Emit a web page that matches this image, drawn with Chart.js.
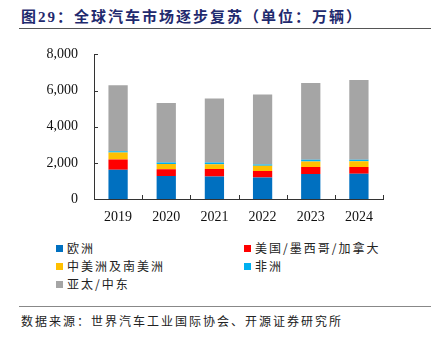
<!DOCTYPE html>
<html>
<head>
<meta charset="utf-8">
<script src="https://cdn.jsdelivr.net/npm/chart.js@4.4.1/dist/chart.umd.min.js"></script>
<style>
  html, body { margin: 0; padding: 0; background: #fff; }
  #page { position: relative; width: 431px; height: 340px; overflow: hidden; }
  #title {
    position: absolute; left: 21px; top: 5px;
    font: bold 15px "Liberation Serif", "Noto Sans CJK SC", serif;
    color: #1f2a6e; letter-spacing: 2px; white-space: nowrap;
  }
  .rule { position: absolute; left: 19px; right: 0; height: 1px; background: #555; }
  #chartBox { position: absolute; left: 0; top: 30px; width: 431px; height: 200px; }
  .leg {
    position: absolute; font: 12px "Noto Sans CJK SC", sans-serif; color: #222;
    letter-spacing: 2px; white-space: nowrap; line-height: 14px;
  }
  .leg i { display: inline-block; width: 7px; height: 7px; margin-right: 4px; vertical-align: 1px; }
  #source {
    position: absolute; left: 21px; top: 312px;
    font: 12px "Noto Sans CJK SC", sans-serif; color: #222; letter-spacing: 2px; white-space: nowrap;
  }
</style>
</head>
<body>
<div id="page">
  <div id="title">图29：全球汽车市场逐步复苏（单位：万辆）</div>
  <div class="rule" style="top:28px"></div>
  <div id="chartBox"><canvas id="carChart"></canvas></div>
  <div id="legend"></div>
  <div class="rule" style="top:306px; background:#888"></div>
  <div id="source">数据来源：世界汽车工业国际协会、开源证券研究所</div>
</div>
<script>
// 数据 (万辆)
const years = ['2019', '2020', '2021', '2022', '2023', '2024'];
const europe = [1620, 1270, 1240, 1185, 1380, 1400];
const northAmerica = [565, 370, 415, 360, 385, 365];
const latinAmerica = [385, 290, 270, 290, 310, 325];
const africa = [70, 90, 95, 75, 90, 75];
const asiaMideast = [3650, 3290, 3545, 3870, 4255, 4420];

const seriesNames = ['欧洲', '美国/墨西哥/加拿大', '中美洲及南美洲', '非洲', '亚太/中东'];
const seriesColors = ['#0070c0', '#ff0000', '#ffc000', '#00b0f0', '#a5a5a5'];
const seriesData = [europe, northAmerica, latinAmerica, africa, asiaMideast];
const yTicks = [0, 2000, 4000, 6000, 8000];

const AXIS_COLOR = '#333';

// tick marks pointing into the plot area
const innerTicks = {
    id: 'innerTicks',
    afterDraw(chart) {
        const ctx = chart.ctx;
        const x = chart.scales.x, y = chart.scales.y;
        ctx.save();
        ctx.strokeStyle = AXIS_COLOR;
        ctx.lineWidth = 1;
        ctx.beginPath();
        yTicks.forEach(v => {
            const py = Math.round(y.getPixelForValue(v)) + 0.5;
            ctx.moveTo(x.left, py);
            ctx.lineTo(x.left + 4, py);
        });
        for (let i = 0; i <= years.length; i++) {
            const px = Math.round(x.getPixelForValue(i - 0.5)) + 0.5;
            ctx.moveTo(px, y.bottom);
            ctx.lineTo(px, y.bottom - 4);
        }
        ctx.stroke();
        ctx.restore();
    }
};

const ctx = document.getElementById('carChart').getContext('2d');
new Chart(ctx, {
    type: 'bar',
    data: {
        labels: years,
        datasets: seriesData.map((d, i) => ({
            label: seriesNames[i],
            data: d,
            backgroundColor: seriesColors[i],
            borderWidth: 0,
            barPercentage: 0.4,
            categoryPercentage: 1
        }))
    },
    options: {
        responsive: true,
        maintainAspectRatio: false,
        animation: false,
        layout: { padding: { left: 0, right: 48, top: 22, bottom: 0 } },
        scales: {
            x: {
                stacked: true,
                grid: { display: false, drawTicks: false },
                border: { display: true, color: AXIS_COLOR, width: 1 },
                ticks: {
                    padding: 10,
                    color: '#111',
                    font: { family: 'Liberation Serif', size: 14 }
                },
                afterFit(scale) { scale.height = 31; }
            },
            y: {
                stacked: true,
                min: 0,
                max: 8000,
                grid: { display: false, drawTicks: false },
                border: { display: true, color: AXIS_COLOR, width: 1 },
                afterBuildTicks(scale) { scale.ticks = yTicks.map(v => ({ value: v })); },
                ticks: {
                    padding: 16,
                    color: '#111',
                    font: { family: 'Liberation Serif', size: 14 },
                    callback: v => v.toLocaleString('en-US')
                },
                afterFit(scale) { scale.width = 94; }
            }
        },
        plugins: {
            legend: { display: false },
            tooltip: { enabled: false }
        }
    },
    plugins: [innerTicks]
});

// 图例: two columns
const legend = document.getElementById('legend');
seriesNames.forEach((name, i) => {
    const item = document.createElement('div');
    item.className = 'leg';
    item.style.left = (i % 2 === 0 ? 56 : 244) + 'px';
    item.style.top = (241 + Math.floor(i / 2) * 18) + 'px';
    item.innerHTML = `<i style="background:${seriesColors[i]}"></i>${name}`;
    legend.appendChild(item);
});
</script>
</body>
</html>
